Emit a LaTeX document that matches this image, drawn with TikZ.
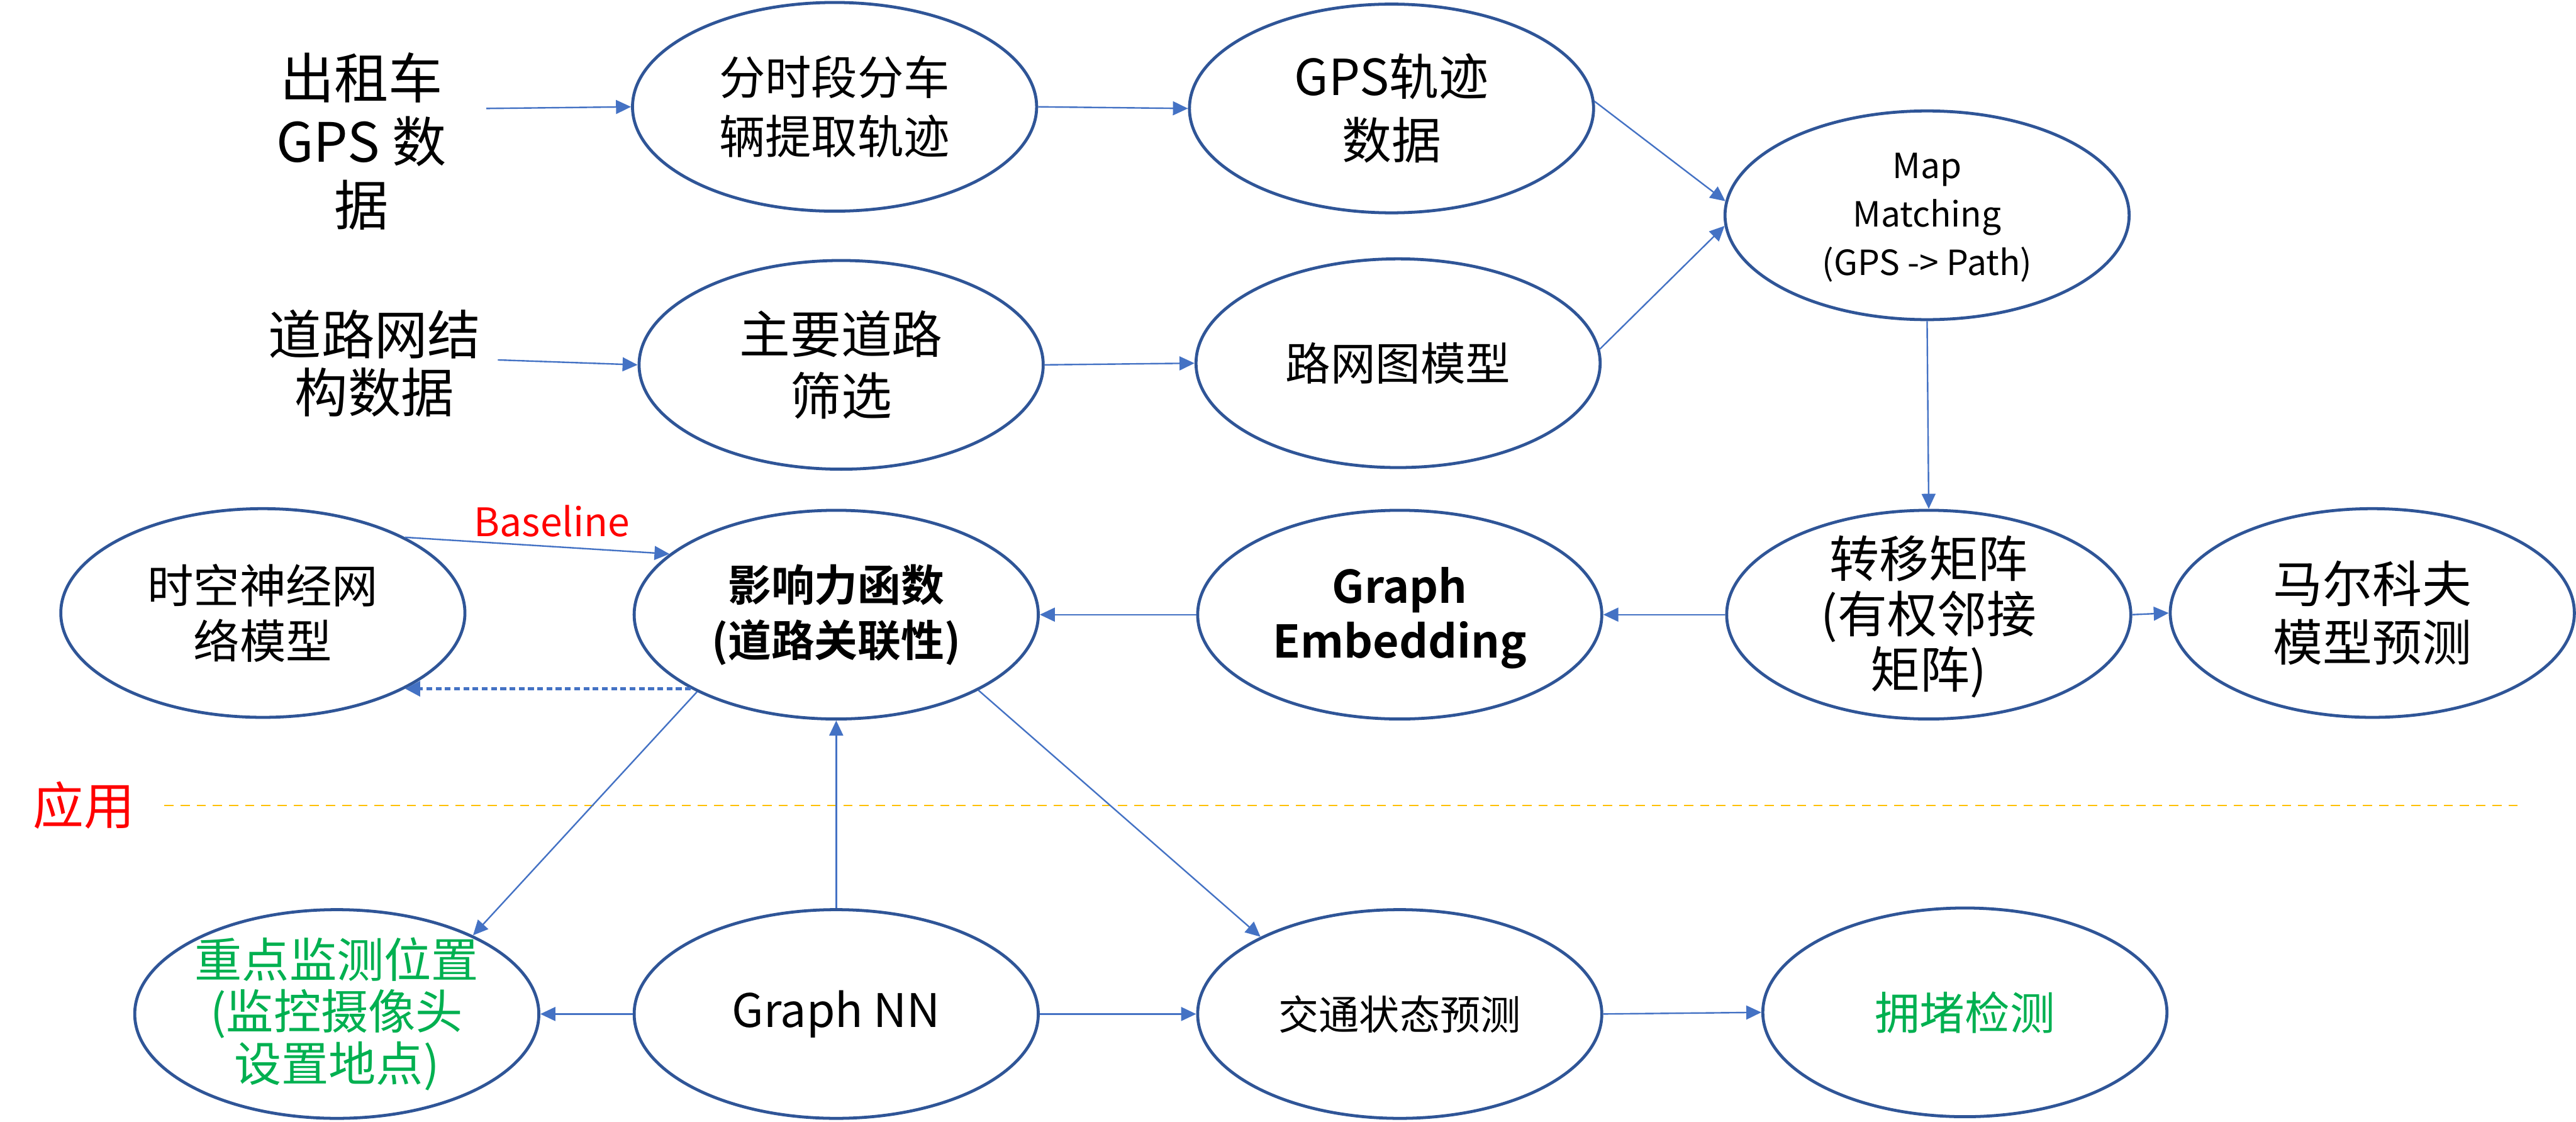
\documentclass[tikz,border=0pt]{standalone}
\usepackage{fontspec}
\setmainfont{Noto Sans CJK SC}[BoldFont={Noto Sans CJK SC Bold}]
\usetikzlibrary{shapes.geometric,arrows.meta}
\definecolor{ellc}{HTML}{2F5597}
\definecolor{arrc}{HTML}{4472C4}
\definecolor{grn}{HTML}{00B050}
\definecolor{orng}{HTML}{FFC000}
\newcommand{\fsz}[2]{\fontsize{#1}{#2}\selectfont}
\tikzset{
  ell/.style={ellipse, draw=ellc, line width=2.6pt, minimum width=12.3cm, minimum height=6.35cm, inner sep=0pt},
  txt/.style={align=center, inner sep=0pt, text=black},
  arr/.style={draw=arrc, line width=1.3pt, -{Triangle[length=13pt,width=12pt]}},
}
\begin{document}
\begin{tikzpicture}[x=0.05cm,y=-0.05cm]
\useasboundingbox (0,0) rectangle (1568,682.7);
% source texts
\node[txt, font=\fsz{47}{55}] (src1) at (220,86) {出租车\\GPS 数\\据};
\node[txt, font=\fsz{46}{50}] (src2) at (228,221) {道路网结\\构数据};
\coordinate (c1) at (296,66);
\coordinate (c2) at (303,219);
% ellipses
\node[ell] (e1) at (508,65) {};
\node[txt, font=\fsz{40}{51}] (t1) at (e1) {分时段分车\\辆提取轨迹};
\node[ell] (e2) at (847,66) {};
\node[txt, font=\fsz{43}{55}] (t2) at (e2) {GPS轨迹\\数据};
\node[ell] (mm) at (1173,131) {};
\node[txt, font=\fsz{30}{42}] (tmm) at ([yshift=-2]mm.center) {Map\\Matching\\(GPS -> Path)};
\node[ell] (e4) at (512,222) {};
\node[txt, font=\fsz{44}{53}] (t4) at (e4) {主要道路\\筛选};
\node[ell] (e5) at (851,221) {};
\node[txt, font=\fsz{39}{50}] (t5) at (e5) {路网图模型};
\node[ell] (sk) at (160,373) {};
\node[txt, font=\fsz{40}{48}] (tsk) at (sk) {时空神经网\\络模型};
\node[ell] (yx) at (509,374) {};
\node[txt, font=\fsz{37.5}{48}\bfseries] (tyx) at (yx) {影响力函数\\(道路关联性)};
\node[ell] (ge) at (852,374) {};
\node[txt, font=\fsz{39}{47}\bfseries] (tge) at ([yshift=-3]ge.center) {Graph\\Embedding};
\node[ell] (zy) at (1174,374) {};
\node[txt, font=\fsz{43}{48}] (tzy) at ([yshift=-2]zy.center) {转移矩阵\\(有权邻接\\矩阵)};
\node[ell] (mk) at (1444,373) {};
\node[txt, font=\fsz{43}{51}] (tmk) at (mk) {马尔科夫\\模型预测};
\node[ell] (zd) at (205,617) {};
\node[txt, text=grn, font=\fsz{41}{45}] (tzd) at (zd) {重点监测位置\\(监控摄像头\\设置地点)};
\node[ell] (gn) at (509,617) {};
\node[txt, font=\fsz{40}{48}] (tgn) at (gn) {Graph NN};
\node[ell] (jt) at (852,617) {};
\node[txt, font=\fsz{35}{45}] (tjt) at (jt) {交通状态预测};
\node[ell] (yd) at (1196,616) {};
\node[txt, text=grn, font=\fsz{39}{48}] (tyd) at (yd) {拥堵检测};
% labels
\node[txt, text=red, font=\fsz{44}{50}] (yy) at (51,490) {应用};
\coordinate (d1) at (100,490);
\coordinate (d2) at (1535,490);
\draw[orng, line width=1.3pt, dash pattern=on 8pt off 6pt] (d1) -- (d2);
% arrows
\draw[arr] (c1) -- (e1.west);
\draw[arr] (e1.east) -- (e2.west);
\draw[arr] (e2.2) -- (mm.176);
\draw[arr] (c2) -- (e4.west);
\draw[arr] (e4.east) -- (e5.west);
\draw[arr] (e5.4) -- (mm.183);
\draw[arr] (mm.south) -- (zy.north);
\draw[arr] (zy.west) -- (ge.east);
\draw[arr] (zy.east) -- (mk.west);
\draw[arr] (ge.west) -- (yx.east);
\draw[arr] (sk.28) -- (yx.160);
\node[txt, text=red, font=\fsz{34}{40}] (bl) at (336,317) {Baseline};
\draw[draw=arrc, line width=2.6pt, dash pattern=on 5pt off 3pt, -{Triangle[length=13pt,width=13pt]}] (yx.207) -- (sk.332 |- yx.207);
\draw[arr] (yx.209) -- (zd.30);
\draw[arr] (yx.332) -- (jt.151);
\draw[arr] (gn.north) -- (yx.south);
\draw[arr] (gn.west) -- (zd.east);
\draw[arr] (gn.east) -- (jt.west);
\draw[arr] (jt.east) -- (yd.west);
\end{tikzpicture}
\end{document}
